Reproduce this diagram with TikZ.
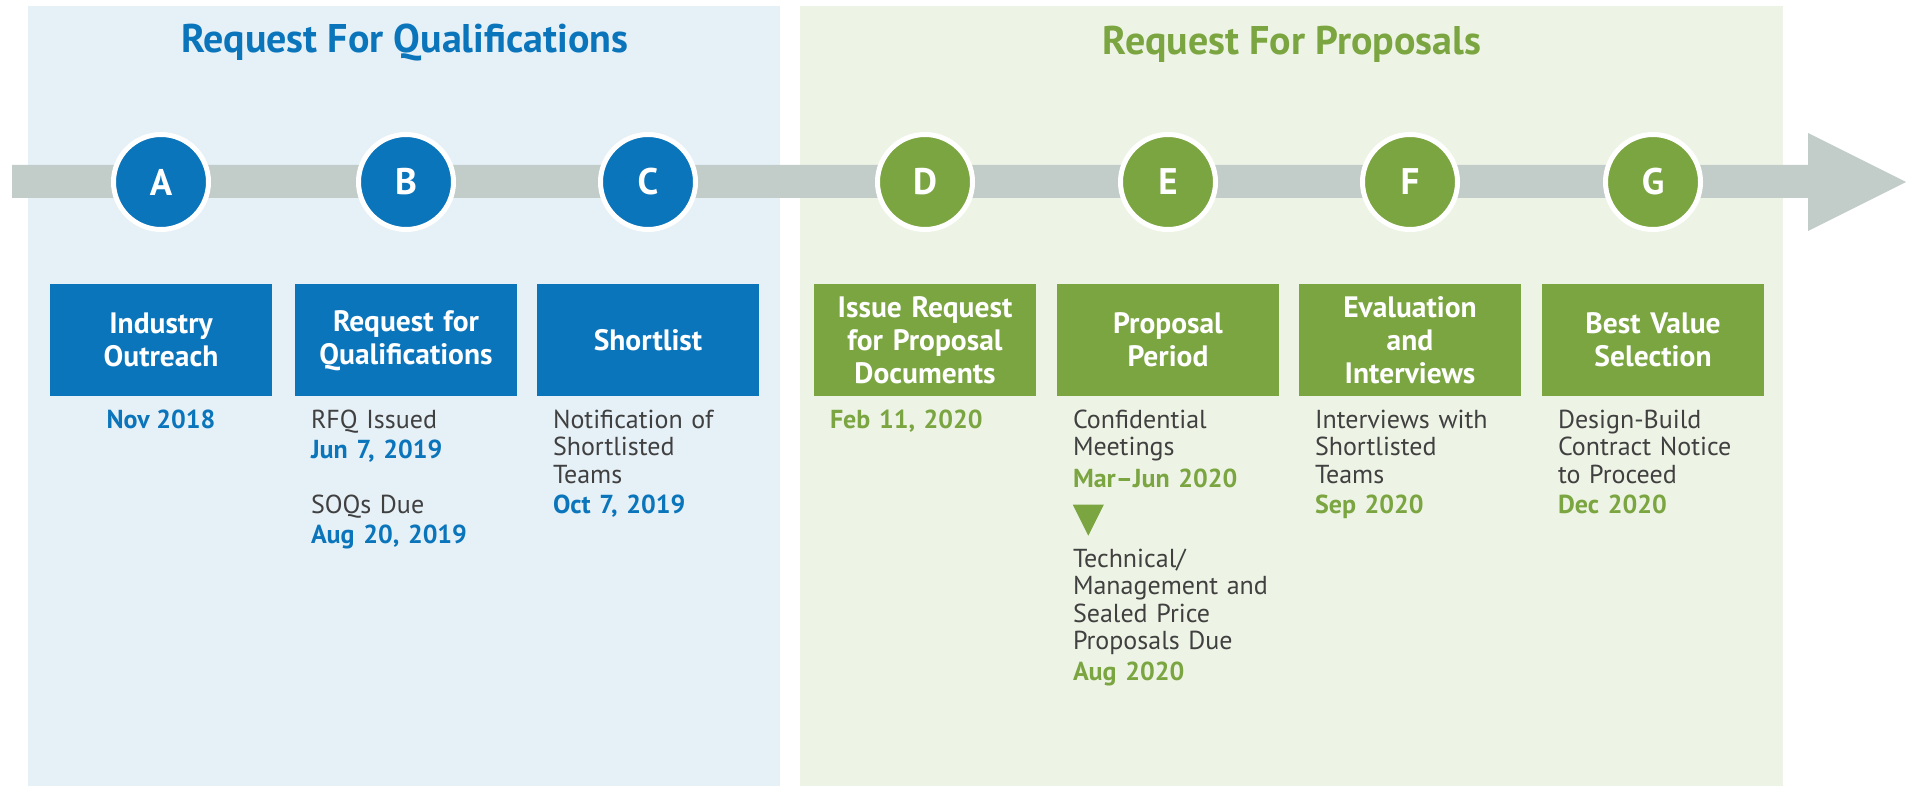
\documentclass[tikz,border=0pt]{standalone}
\usepackage{fontspec}
\setmainfont{PT Sans}
\usetikzlibrary{positioning}

\definecolor{rfqblue}{HTML}{0B75BB}
\definecolor{rfpgreen}{HTML}{7BA541}
\definecolor{rfqback}{HTML}{E5F0F7}
\definecolor{rfpback}{HTML}{EEF4E5}
\definecolor{arrowgray}{HTML}{C2CCC8}
\definecolor{bodygray}{HTML}{404040}

\tikzset{
  milestone/.style={circle, minimum size=95pt, inner sep=0pt, draw=white, line width=5pt,
    text=white, font=\fontsize{37}{37}\selectfont\bfseries},
  stagebox/.style={rectangle, minimum width=222pt, minimum height=112pt, inner sep=0pt,
    text width=215pt, align=center, text=white, font=\fontsize{29.5}{33}\selectfont\bfseries},
  infotext/.style={anchor=north west, inner sep=0pt, text width=215pt, align=left,
    text=bodygray, font=\fontsize{26}{27.5}\selectfont},
  phasetitle/.style={anchor=base, font=\fontsize{40}{40}\selectfont\bfseries},
}
\newcommand{\qdate}[1]{\textcolor{rfqblue}{\bfseries #1}}
\newcommand{\pdate}[1]{\textcolor{rfpgreen}{\bfseries #1}}

\begin{document}
\begin{tikzpicture}[x=1pt,y=-1pt]
    \useasboundingbox (0,0) rectangle (1916,786);

    % Draw the two phase panels
    \fill[rfqback] (28,6) rectangle (780,786);
    \fill[rfpback] (800,6) rectangle (1783,786);

    % Add the phase titles
    \node[phasetitle, text=rfqblue] (rfqtitle) at (405,53) {Request For Qualifications};
    \node[phasetitle, text=rfpgreen] (rfptitle) at (1292,55) {Request For Proposals};

    % Draw the timeline arrow
    \fill[arrowgray] (12,165) -- (1808,165) -- (1808,133) -- (1906,182)
        -- (1808,231) -- (1808,198) -- (12,198) -- cycle;

    % Draw the milestone circles
    \node[milestone, fill=rfqblue] (circA) at (161,182) {A};
    \node[milestone, fill=rfqblue] (circB) at (406,182) {B};
    \node[milestone, fill=rfqblue] (circC) at (648,182) {C};
    \node[milestone, fill=rfpgreen] (circD) at (925,182) {D};
    \node[milestone, fill=rfpgreen] (circE) at (1168,182) {E};
    \node[milestone, fill=rfpgreen] (circF) at (1410,182) {F};
    \node[milestone, fill=rfpgreen] (circG) at (1653,182) {G};

    % Draw the stage boxes below the circles
    \node[stagebox, fill=rfqblue, below=52pt of circA] (boxA) {Industry\\Outreach};
    \node[stagebox, fill=rfqblue, below=52pt of circB] (boxB) {Request for\\Qualifications};
    \node[stagebox, fill=rfqblue, below=52pt of circC] (boxC) {Shortlist};
    \node[stagebox, fill=rfpgreen, below=52pt of circD] (boxD) {Issue Request\\for Proposal\\Documents};
    \node[stagebox, fill=rfpgreen, below=52pt of circE] (boxE) {Proposal\\Period};
    \node[stagebox, fill=rfpgreen, below=52pt of circF] (boxF) {Evaluation\\and\\Interviews};
    \node[stagebox, fill=rfpgreen, below=52pt of circG] (boxG) {Best Value\\Selection};

    % Add the notes and dates under each box
    \node[inner sep=0pt, text=rfqblue, font=\fontsize{26}{27}\selectfont\bfseries,
        below=13pt of boxA] (infoA) {Nov 2018};
    \node[infotext] (infoB) at ([xshift=16pt,yshift=-13pt]boxB.south west)
        {RFQ Issued\\[3pt]\qdate{Jun 7, 2019}\\[27pt]SOQs Due\\[3pt]\qdate{Aug 20, 2019}};
    \node[infotext] (infoC) at ([xshift=16pt,yshift=-13pt]boxC.south west)
        {Notification of\\Shortlisted\\Teams\\[3pt]\qdate{Oct 7, 2019}};
    \node[infotext] (infoD) at ([xshift=16pt,yshift=-13pt]boxD.south west)
        {\pdate{Feb 11, 2020}};
    \node[infotext] (infoE) at ([xshift=16pt,yshift=-13pt]boxE.south west)
        {Confidential\\Meetings\\[4pt]\pdate{Mar--Jun 2020}};
    \fill[rfpgreen] ([yshift=-17pt]infoE.south west) -- ++(31,0) -- ++(-15.5,31) -- cycle;
    \node[infotext] (infoEdue) at ([yshift=-61pt]infoE.south west)
        {Technical/\\Management and\\Sealed Price\\Proposals Due\\[3pt]\pdate{Aug 2020}};
    \node[infotext] (infoF) at ([xshift=16pt,yshift=-13pt]boxF.south west)
        {Interviews with\\Shortlisted\\Teams\\[3pt]\pdate{Sep 2020}};
    \node[infotext] (infoG) at ([xshift=16pt,yshift=-13pt]boxG.south west)
        {Design-Build\\Contract Notice\\to Proceed\\[3pt]\pdate{Dec 2020}};

\end{tikzpicture}
\end{document}
